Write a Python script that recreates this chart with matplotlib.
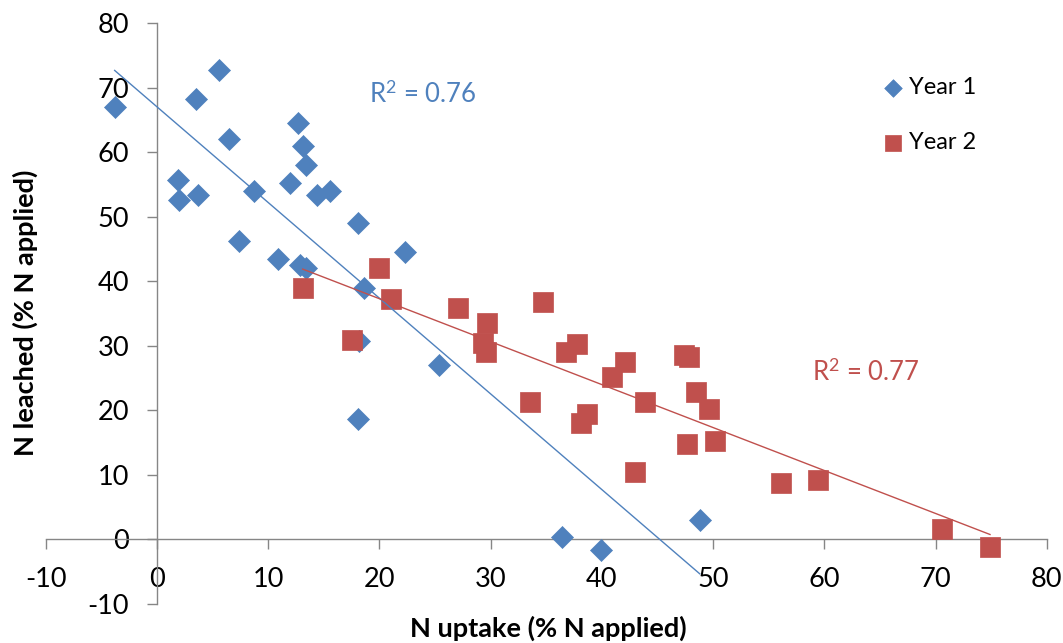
import numpy as np
import matplotlib
matplotlib.use("Agg")
import matplotlib.pyplot as plt

# ---- data ----
year1_x = [-3.8, 5.6, 3.5, 6.5, 1.9, 2.0, 3.7, 8.7, 7.4, 10.9, 12.7, 13.1, 13.4, 12.0,
           14.4, 15.6, 18.1, 12.9, 13.4, 22.3, 18.6, 18.2, 18.1, 25.4, 36.4, 39.9, 48.8]
year1_y = [67.0, 72.8, 68.3, 62.0, 55.7, 52.6, 53.3, 54.0, 46.3, 43.5, 64.6, 61.0, 58.1, 55.3,
           53.3, 54.0, 49.1, 42.6, 42.1, 44.6, 39.0, 30.8, 18.7, 27.0, 0.4, -1.7, 3.0]

year2_x = [13.1, 17.5, 20.0, 21.0, 27.1, 29.7, 29.3, 29.6, 34.7, 33.5, 36.8, 37.8, 38.1, 38.7,
           40.9, 42.1, 43.9, 43.0, 47.4, 47.8, 48.5, 49.6, 47.7, 50.2, 56.1, 59.4, 70.6, 74.9]
year2_y = [39.0, 30.9, 42.0, 37.3, 35.9, 33.5, 30.4, 29.1, 36.8, 21.3, 29.1, 30.3, 18.1, 19.4,
           25.1, 27.5, 21.3, 10.4, 28.5, 28.2, 22.8, 20.2, 14.8, 15.2, 8.8, 9.2, 1.6, -1.2]

series_labels = ["Year 1", "Year 2"]
r2_labels = [r"R$^{2}$ = 0.76", r"R$^{2}$ = 0.77"]
x_ticks = list(range(-10, 81, 10))
y_ticks = list(range(-10, 81, 10))
x_label = "N uptake (% N applied)"
y_label = "N leached (% N applied)"

BLUE = "#4F81BD"
RED = "#C0504D"
AXIS_GRAY = "#868686"

plt.rcParams['font.family'] = ['Lato', 'DejaVu Sans']
plt.rcParams['axes.unicode_minus'] = False
plt.rcParams['mathtext.fontset'] = 'custom'
plt.rcParams['mathtext.rm'] = 'Lato'
plt.rcParams['mathtext.it'] = 'Lato:italic'
plt.rcParams['mathtext.bf'] = 'Lato:bold'

fig = plt.figure(figsize=(10.63, 6.43), dpi=100)
ax = fig.add_axes([0.043, 0.061, 0.9417, 0.9028])

ax.scatter(year1_x, year1_y, marker='D', s=11.2**2, color=BLUE, edgecolors=BLUE,
           linewidths=0.5, label=series_labels[0], zorder=3)
ax.scatter(year2_x, year2_y, marker='s', s=15**2, color=RED, edgecolors=RED,
           linewidths=0.5, label=series_labels[1], zorder=3)

# linear trendlines
for xs, ys, c in [(year1_x, year1_y, BLUE), (year2_x, year2_y, RED)]:
    xs = np.asarray(xs); ys = np.asarray(ys)
    m, b = np.polyfit(xs, ys, 1)
    xx = np.array([xs.min(), xs.max()])
    ax.plot(xx, m * xx + b, color=c, lw=1.0, zorder=4)

ax.text(19.1, 68.9, r2_labels[0], color=BLUE, fontsize=18.5, ha='left', va='center')
ax.text(58.9, 25.9, r2_labels[1], color=RED, fontsize=18.5, ha='left', va='center')

ax.set_xlim(-10, 80)
ax.set_ylim(-10, 80)
ax.set_xticks(x_ticks)
ax.set_yticks(y_ticks)

for s in ['top', 'right']:
    ax.spines[s].set_visible(False)
ax.spines['left'].set_position(('data', 0))
ax.spines['bottom'].set_position(('data', 0))
for s in ['left', 'bottom']:
    ax.spines[s].set_color(AXIS_GRAY)
    ax.spines[s].set_linewidth(1.0)

ax.tick_params(axis='both', direction='out', length=7, width=1.0, color=AXIS_GRAY,
               labelsize=19.5, labelcolor='black')
ax.tick_params(axis='y', pad=13)
ax.tick_params(axis='x', pad=13)

fig.text(0.516, 0.023, x_label, fontsize=19.5, fontweight='bold', ha='center', va='center')
fig.text(0.0235, 0.513, y_label, fontsize=19.5, fontweight='bold', ha='center', va='center',
         rotation=90)

leg = ax.legend(loc='upper left', bbox_to_anchor=(872 / 1063, 1 - 65 / 643),
                bbox_transform=fig.transFigure, frameon=False, borderpad=0,
                handlelength=0.8, handletextpad=0.25, labelspacing=1.45,
                markerscale=0.8, fontsize=17)

fig.savefig("out.png", dpi=100, facecolor='white')
